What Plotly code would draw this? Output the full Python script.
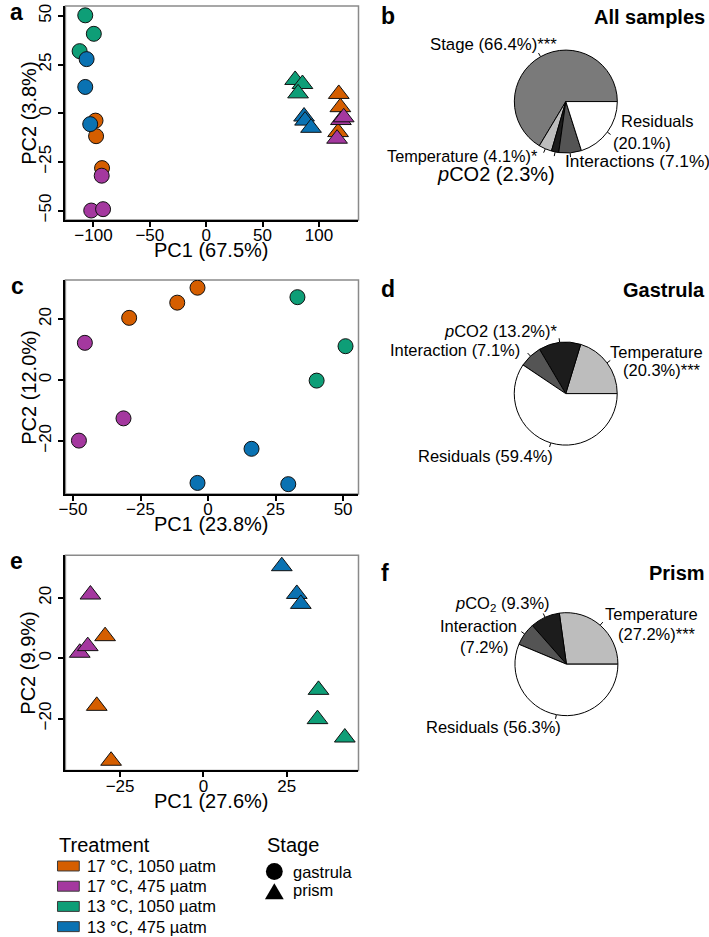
import math
import plotly.graph_objects as go

# ---------------- data ----------------
treatments = ["17 °C, 1050 µatm", "17 °C, 475 µatm", "13 °C, 1050 µatm", "13 °C, 475 µatm"]
treat_colors = ["#D55E00", "#A4389F", "#0E9E77", "#0A72B2"]
stages = ["gastrula", "prism"]

# Panel a: all samples (PC1 67.5%, PC2 3.8%)
a_gas_x = [[-98.2, -97.7, -92.4], [-92.7, -102.0, -91.5], [-107.3, -99.7, -112.3], [-106.1, -107.3, -102.9]]
a_gas_y = [[-3.8, -11.8, -28.2], [-32.1, -50.0, -49.3], [50.3, 40.8, 31.9], [27.8, 13.5, -5.6]]
a_pri_x = [[117.6, 119.0, 117.0], [119.5, 116.1, 122.0], [78.9, 85.4, 81.5], [86.8, 87.7, 93.0]]
a_pri_y = [[9.9, 3.1, -9.7], [-3.5, -13.1, -2.1], [17.1, 15.0, 10.2], [-1.7, -3.8, -7.5]]

# Panel c: gastrula (PC1 23.8%, PC2 12.0%)
c_x = [[-29.2, -11.4, -3.9], [-45.6, -31.3, -47.8], [33.1, 50.9, 40.2], [16.1, -3.9, 29.7]]
c_y = [[20.4, 25.4, 30.3], [12.2, -12.6, -19.9], [27.2, 11.1, -0.2], [-22.6, -33.8, -34.2]]

# Panel e: prism (PC1 27.6%, PC2 9.9%)
e_x = [[-29.5, -32.0, -27.7], [-33.9, -37.1, -34.7], [34.5, 34.2, 42.4], [23.5, 28.0, 29.2]]
e_y = [[7.3, -15.8, -34.0], [21.1, 1.8, 4.0], [-10.5, -20.2, -26.3], [30.5, 21.3, 18.0]]

axis_titles = [("PC1 (67.5%)", "PC2 (3.8%)"), ("PC1 (23.8%)", "PC2 (12.0%)"), ("PC1 (27.6%)", "PC2 (9.9%)")]

# Variance partitioning pies
b_names = ["Stage", "Temperature", "<i>p</i>CO2", "Interactions", "Residuals"]
b_values = [66.4, 4.1, 2.3, 7.1, 20.1]
b_stars = ["***", "*", "", "", ""]
b_colors = ["#7a7a7a", "#bdbdbd", "#1c1c1c", "#545454", "#ffffff"]

d_names = ["Temperature", "<i>p</i>CO2", "Interaction", "Residuals"]
d_values = [20.3, 13.2, 7.1, 59.4]
d_stars = ["***", "*", "", ""]
d_colors = ["#bdbdbd", "#1c1c1c", "#545454", "#ffffff"]

f_names = ["Temperature", "<i>p</i>CO<sub>2</sub>", "Interaction", "Residuals"]
f_values = [27.2, 9.3, 7.2, 56.3]
f_stars = ["***", "", "", ""]
f_colors = ["#bdbdbd", "#1c1c1c", "#545454", "#ffffff"]

pie_titles = ["All samples", "Gastrula", "Prism"]

# ---------------- layout helpers ----------------
W, H = 709, 937
FONT = "Liberation Sans, Arial, sans-serif"


def px(x):
    return x / W


def py(y):
    return 1 - y / H


fig = go.Figure()

# ---------------- scatter panels ----------------
sym = {"gastrula": "circle", "prism": "triangle-up"}
msize = {"gastrula": 15, "prism": 18}


def add_points(xs, ys, stage, xa, ya):
    for i, t in enumerate(treatments):
        fig.add_trace(go.Scatter(
            x=xs[i], y=ys[i], mode="markers", name=t, showlegend=False,
            xaxis=xa, yaxis=ya,
            marker=dict(symbol=sym[stage], size=msize[stage], color=treat_colors[i],
                        line=dict(color="#111111", width=1))))


add_points(a_gas_x, a_gas_y, "gastrula", "x", "y")
add_points(a_pri_x, a_pri_y, "prism", "x", "y")
add_points(c_x, c_y, "gastrula", "x2", "y2")
add_points(e_x, e_y, "prism", "x3", "y3")

PL, PR = 59, 355
panel_boxes = [(4, 219), (279.3, 494), (555.7, 771.7)]  # top, bottom px
xranges = [[-124.9, 135.1], [-52.8, 55.7], [-41.4, 46.5]]
yranges = [[-54.9, 55.1], [-37.4, 32.8], [-37.2, 34.1]]
xdticks = [50, 25, 25]
ydticks = [25, 20, 20]
y_title_x = [22, 22, 21]

common = dict(showline=True, linecolor="black", linewidth=2, ticks="outside", ticklen=5,
              tickwidth=1.5, tickcolor="black", showgrid=False, zeroline=False,
              tickfont=dict(size=17, color="black", family=FONT), mirror=False)

shapes = []
annotations = []
for k in range(3):
    sfx = "" if k == 0 else str(k + 1)
    top, bot = panel_boxes[k]
    fig.update_layout(**{
        "xaxis" + sfx: dict(common, domain=[px(PL), px(PR)], range=xranges[k], dtick=xdticks[k],
                            anchor="y" + sfx, ticklabelstandoff=-6),
        "yaxis" + sfx: dict(common, domain=[py(bot), py(top)], range=yranges[k], dtick=ydticks[k],
                            anchor="x" + sfx, tickangle=-90, ticklabelstandoff=1),
    })
    shapes.append(dict(type="rect", xref="x%s domain" % sfx, yref="y%s domain" % sfx,
                       x0=0, x1=1, y0=0, y1=1, line=dict(color="#8a8a8a", width=1.5), layer="below"))
    # axis titles
    annotations.append(dict(text=axis_titles[k][0], x=px((PL + PR) / 2), y=py(bot + 30.5), xref="paper",
                            yref="paper", xanchor="center", yanchor="middle", showarrow=False,
                            font=dict(size=20, color="black", family=FONT)))
    annotations.append(dict(text=axis_titles[k][1], x=px(y_title_x[k]), y=py((top + bot) / 2), xref="paper",
                            yref="paper", xanchor="center", yanchor="middle", showarrow=False, textangle=-90,
                            font=dict(size=20, color="black", family=FONT)))

# ---------------- pies ----------------
pie_centers = [(564.4, 100), (564.3, 393.3), (565, 665)]
R = 52
pies = [(b_names, b_values, b_stars, b_colors), (d_names, d_values, d_stars, d_colors),
        (f_names, f_values, f_stars, f_colors)]

# label line positions (px): list per slice of (x, y, xanchor), and font sizes
label_pos = [
    [[(557, 43, "right")], [(538, 155, "right")], [(555, 173, "right")],
     [(562, 160, "left")], [(618, 120, "left"), (610, 142, "left")]],
    [[(607, 352, "left"), (620, 370, "left")], [(558, 330, "right")],
     [(520, 349.5, "right")], [(553, 456, "right")]],
    [[(602, 615, "left"), (615, 635, "left")], [(550, 605, "right")],
     [(517, 627, "right"), (509, 648, "right")], [(562, 728, "right")]],
]
label_size = [[16.8, 16.3, 20, 17.3, 16.5], [16.5, 16.5, 16.5, 16.5], [16.5, 16.5, 16.5, 16.5]]

for k, (names, vals, stars, cols) in enumerate(pies):
    cx, cy = pie_centers[k]
    total = sum(vals)
    # plotly: with counterclockwise direction the first slice ends at `rotation`
    rot = 90 - vals[0] / total * 360
    fig.add_trace(go.Pie(
        labels=[n.replace("<i>", "").replace("</i>", "").replace("<sub>", "").replace("</sub>", "") for n in names],
        values=vals, sort=False, direction="counterclockwise", rotation=rot,
        marker=dict(colors=cols, line=dict(color="black", width=1)),
        textinfo="none", hoverinfo="label+value", showlegend=False,
        domain=dict(x=[px(cx - R), px(cx + R)], y=[py(cy + R), py(cy - R)])))
    cum = 0.0
    for i, v in enumerate(vals):
        mid = (cum + v / 2) / total * 2 * math.pi
        cum += v
        r0, r1 = R, R + 4
        shapes.append(dict(type="line", xref="paper", yref="paper",
                           x0=px(cx + r0 * math.cos(mid)), y0=py(cy - r0 * math.sin(mid)),
                           x1=px(cx + r1 * math.cos(mid)), y1=py(cy - r1 * math.sin(mid)),
                           line=dict(color="black", width=1)))
        val_txt = "(%s%%)%s" % (v, stars[i])
        lines = label_pos[k][i]
        texts = [names[i] + " " + val_txt] if len(lines) == 1 else [names[i], val_txt]
        for (lx, ly, anc), t in zip(lines, texts):
            annotations.append(dict(text=t, x=px(lx), y=py(ly), xref="paper", yref="paper",
                                    xanchor=anc, yanchor="middle", showarrow=False,
                                    font=dict(size=label_size[k][i], color="black", family=FONT)))
    # titles
    title_y = [15, 289, 573][k]
    annotations.append(dict(text="<b>%s</b>" % pie_titles[k], x=px(707), y=py(title_y), xref="paper",
                            yref="paper", xanchor="right", yanchor="middle", showarrow=False,
                            font=dict(size=20, color="black", family=FONT)))

# panel letters
for letter, lx, ly in [("a", 1, 10), ("c", 2, 285.5), ("e", 1, 561.5), ("b", 376, 14), ("d", 376, 288),
                       ("f", 376, 573)]:
    annotations.append(dict(text="<b>%s</b>" % letter, x=px(lx), y=py(ly), xref="paper", yref="paper",
                            xanchor="left", yanchor="middle", showarrow=False,
                            font=dict(size=23, color="black", family=FONT)))

# ---------------- manual legend ----------------
annotations.append(dict(text="Treatment", x=px(51), y=py(847), xref="paper", yref="paper", xanchor="left",
                        yanchor="middle", showarrow=False, font=dict(size=20, color="black", family=FONT)))
row_y = [867.7, 888.0, 908.3, 928.6]
for i, t in enumerate(treatments):
    shapes.append(dict(type="rect", xref="paper", yref="paper", x0=px(51), x1=px(73),
                       y0=py(row_y[i] + 5), y1=py(row_y[i] - 5), fillcolor=treat_colors[i],
                       line=dict(color="#3a3a3a", width=1)))
    annotations.append(dict(text=t, x=px(79), y=py(row_y[i]), xref="paper", yref="paper", xanchor="left",
                            yanchor="middle", showarrow=False, font=dict(size=16.5, color="black", family=FONT)))

annotations.append(dict(text="Stage", x=px(261), y=py(847), xref="paper", yref="paper", xanchor="left",
                        yanchor="middle", showarrow=False, font=dict(size=20, color="black", family=FONT)))
stage_y = [873.3, 893.0]
cr = 8.5
shapes.append(dict(type="circle", xref="paper", yref="paper", x0=px(270 - cr), x1=px(270 + cr),
                   y0=py(stage_y[0] + cr), y1=py(stage_y[0] - cr), fillcolor="black", line=dict(width=0)))
tw, th = 9.5, 16
tri = "M %f,%f L %f,%f L %f,%f Z" % (px(270 - tw), py(stage_y[1] + th / 2), px(270 + tw), py(stage_y[1] + th / 2),
                                     px(270), py(stage_y[1] - th / 2))
shapes.append(dict(type="path", xref="paper", yref="paper", path=tri, fillcolor="black", line=dict(width=0)))
for s, yy in zip(stages, [873.3, 891.7]):
    annotations.append(dict(text=s, x=px(287), y=py(yy), xref="paper", yref="paper", xanchor="left",
                            yanchor="middle", showarrow=False, font=dict(size=16.5, color="black", family=FONT)))

fig.update_layout(width=W, height=H, margin=dict(l=0, r=0, t=0, b=0), paper_bgcolor="white",
                  plot_bgcolor="white", shapes=shapes, annotations=annotations,
                  font=dict(family=FONT, color="black"))

fig.write_html("out.html", config={"displayModeBar": False},
               post_script="document.body.style.margin='0px';document.body.style.overflow='hidden';")
